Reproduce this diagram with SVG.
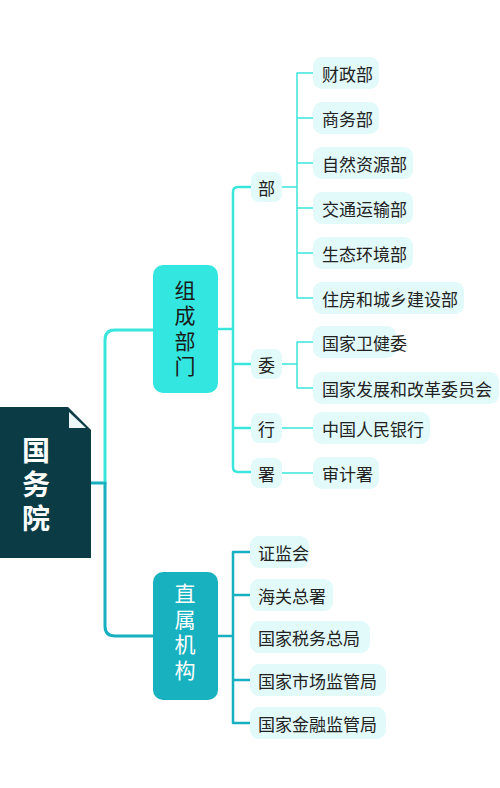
<svg xmlns="http://www.w3.org/2000/svg" width="500" height="788" viewBox="0 0 500 788">
<style>
  text { font-family: "Noto Sans CJK SC", "Noto Sans", sans-serif; dominant-baseline: central; }
  .leaf rect { fill: #e2fafa; }
  .leaf text { font-size: 17px; fill: #222; }
  .sub rect { fill: #e2fafa; }
  .sub text { font-size: 17px; fill: #222; text-anchor: middle; }
  .c1 { stroke: #3ae6dc; fill: none; stroke-linecap: round; stroke-linejoin: round; }
  .c2 { stroke: #17b0c0; fill: none; stroke-linecap: round; stroke-linejoin: round; }
  .vt { writing-mode: vertical-rl; text-orientation: upright; }
  .big text { font-size: 21px; letter-spacing: 4.5px; }
</style>
<rect width="500" height="788" fill="#ffffff"/>
<g id="connectors">
  <path class="c2" stroke-width="3" d="M91,483 H105"/>
  <path class="c1" stroke-width="3" d="M105,483 V340 Q105,330 115,330 H153"/>
  <path class="c2" stroke-width="3" d="M105,483 V626 Q105,636 115,636 H153"/>
  <path class="c1" stroke-width="2.5" d="M218,329 H233 M233,329 V192 Q233,187 238,187 H251 M233,329 V467 Q233,472 238,472 H251 M233,364 H251 M233,428 H251"/>
  <path class="c1" stroke-width="1.5" d="M282,187 H297 M313,73 H297 V298 H313 M297,118 H313 M297,163 H313 M297,208 H313 M297,253 H313"/>
  <path class="c1" stroke-width="1.5" d="M282,364 H297 M313,342 H297 V388 H313"/>
  <path class="c1" stroke-width="1.5" d="M282,428 H313 M282,473 H313"/>
  <path class="c2" stroke-width="2.5" d="M218,636 H233 M250,552 H233 V723 H250 M233,595 H250 M233,680 H250"/>
</g>
<g id="root">
  <polygon points="0,407 68,407 91,430 91,558 0,558" fill="#0b3c46"/>
  <polygon points="69,412 69,428 86,428" fill="#eef7f7"/>
  <text class="vt" x="36" y="436" font-size="28" font-weight="bold" fill="#ffffff" letter-spacing="6">国务院</text>
</g>
<g id="zucheng" class="big">
  <rect x="153" y="265" width="65" height="128" rx="10" fill="#33e6df"/>
  <text class="vt" x="185" y="279.5" fill="#1a1a1a">组成部门</text>
</g>
<g id="zhishu" class="big">
  <rect x="153" y="572" width="65" height="128" rx="10" fill="#17b1c0"/>
  <text class="vt" x="185" y="583" fill="#ffffff">直属机构</text>
</g>
<g id="sub-bu" class="sub"><rect x="251" y="172" width="31" height="30" rx="8"/><text x="266.5" y="187">部</text></g>
<g id="sub-wei" class="sub"><rect x="251" y="349" width="31" height="30" rx="8"/><text x="266.5" y="364">委</text></g>
<g id="sub-hang" class="sub"><rect x="251" y="413" width="31" height="30" rx="8"/><text x="266.5" y="428">行</text></g>
<g id="sub-shu" class="sub"><rect x="251" y="458" width="31" height="30" rx="8"/><text x="266.5" y="473">署</text></g>
<g id="leaf-caizheng" class="leaf"><rect x="313" y="57" width="66" height="32" rx="9"/><text x="322" y="73">财政部</text></g>
<g id="leaf-shangwu" class="leaf"><rect x="313" y="102" width="66" height="32" rx="9"/><text x="322" y="118">商务部</text></g>
<g id="leaf-ziran" class="leaf"><rect x="313" y="147" width="100" height="32" rx="9"/><text x="322" y="163">自然资源部</text></g>
<g id="leaf-jiaotong" class="leaf"><rect x="313" y="192" width="100" height="32" rx="9"/><text x="322" y="208">交通运输部</text></g>
<g id="leaf-shengtai" class="leaf"><rect x="313" y="237" width="100" height="32" rx="9"/><text x="322" y="253">生态环境部</text></g>
<g id="leaf-zhufang" class="leaf"><rect x="313" y="282" width="151" height="32" rx="9"/><text x="322" y="298">住房和城乡建设部</text></g>
<g id="leaf-weijian" class="leaf"><rect x="313" y="326" width="83" height="32" rx="9"/><text x="322" y="342">国家卫健委</text></g>
<g id="leaf-fagai" class="leaf"><rect x="313" y="372" width="186" height="32" rx="9"/><text x="322" y="388">国家发展和改革委员会</text></g>
<g id="leaf-renmin" class="leaf"><rect x="313" y="412" width="117" height="32" rx="9"/><text x="322" y="428">中国人民银行</text></g>
<g id="leaf-shenji" class="leaf"><rect x="313" y="457" width="66" height="32" rx="9"/><text x="322" y="473">审计署</text></g>
<g id="leaf-zhengjian" class="leaf"><rect x="250" y="536" width="59" height="32" rx="9"/><text x="258" y="552">证监会</text></g>
<g id="leaf-haiguan" class="leaf"><rect x="250" y="579" width="83" height="32" rx="9"/><text x="258" y="595">海关总署</text></g>
<g id="leaf-shuiwu" class="leaf"><rect x="250" y="621" width="120" height="32" rx="9"/><text x="258" y="637">国家税务总局</text></g>
<g id="leaf-shichang" class="leaf"><rect x="250" y="664" width="136" height="32" rx="9"/><text x="258" y="680">国家市场监管局</text></g>
<g id="leaf-jinrong" class="leaf"><rect x="250" y="707" width="136" height="32" rx="9"/><text x="258" y="723">国家金融监管局</text></g>
</svg>
